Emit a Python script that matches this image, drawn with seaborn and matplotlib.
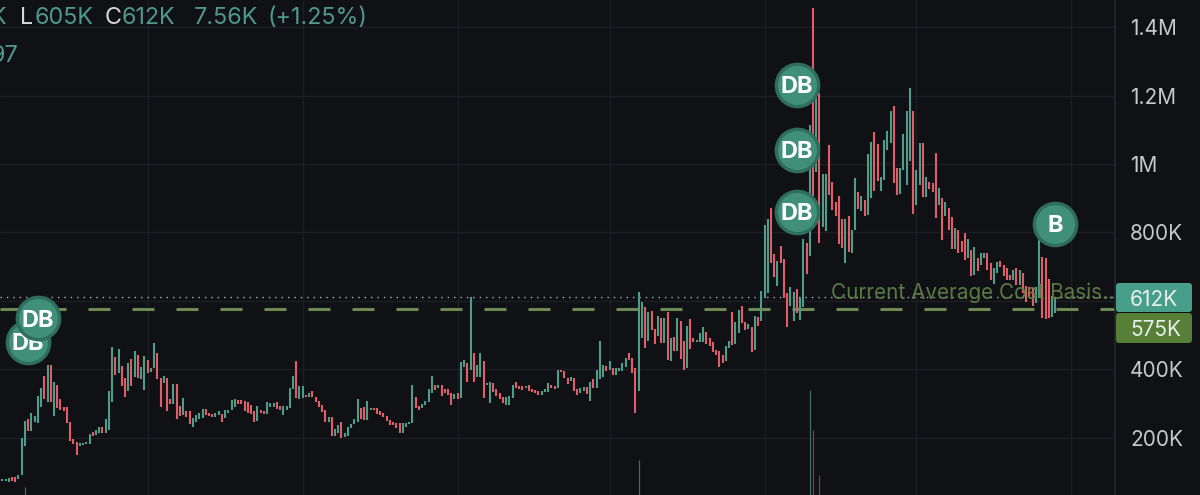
import matplotlib
matplotlib.use('Agg')
import matplotlib.pyplot as plt
import pandas as pd
import seaborn as sns
from matplotlib.patches import FancyBboxPatch
from matplotlib.transforms import IdentityTransform

# candles (thousands)
highs = [
    80, 80, 84, 87, 85, 90, 199, 249, 254, 274,
    264, 323, 345, 381, 413, 413, 364, 353, 313, 291,
    291, 246, 197, 187, 184, 186, 188, 210, 216, 223,
    232, 232, 255, 337, 466, 437, 460, 410, 376, 418,
    429, 455, 442, 408, 439, 427, 403, 476, 447, 374,
    381, 374, 313, 356, 357, 293, 316, 277, 277, 257,
    267, 272, 283, 283, 272, 270, 272, 277, 269, 282,
    282, 311, 313, 311, 311, 309, 306, 296, 277, 293,
    282, 279, 306, 303, 303, 306, 293, 293, 293, 345,
    381, 425, 350, 352, 325, 330, 337, 320, 309, 296,
    282, 260, 262, 226, 238, 247, 213, 233, 241, 254,
    313, 286, 291, 308, 286, 288, 286, 277, 272, 265,
    252, 247, 243, 243,
    243, 243, 247, 354, 319, 293, 299, 309, 343, 381,
    354, 354, 354, 343, 342, 330, 327, 330, 421, 427,
    418, 612, 447, 413, 447, 423, 361, 362, 359, 342,
    330, 318, 320, 322, 354, 362, 350, 350, 352, 354,
    342, 340, 337, 337, 342, 359, 354, 352, 398, 398,
    395, 374, 377, 374, 342, 345, 348, 348, 363, 371,
    398, 484, 413, 410, 423, 405, 403, 405, 420, 432,
    447, 432, 405, 625, 598, 583, 569, 571, 517, 556,
    551, 549, 569, 491, 496, 549, 542, 484, 527, 547,
    491, 486, 505, 523, 508, 493, 479, 457, 454, 442,
    468, 483, 567, 537, 573,
    584, 538, 533, 525, 557, 554, 630, 822, 839, 871,
    737, 717, 759, 722, 623, 642, 625, 634, 608, 780,
    769, 1114, 1455, 1192, 1207, 971, 971, 1054, 946, 890,
    905, 839, 839, 848, 808, 958, 917, 907, 895, 1029,
    1063, 1092, 1059, 963, 1070, 1097, 1155, 1170, 988, 988,
    1088, 1156, 1223, 1156, 983, 1061, 1061, 961, 947, 944,
    1033, 929, 900, 890, 871, 844, 812, 808, 774, 798,
    780, 749, 757, 725,
    739, 741, 739, 710, 695, 715, 717, 705, 697, 676,
    690, 695, 690, 681, 644, 642, 637, 642, 778, 729,
    725, 663, 613, 608,
]
lows = [
    75, 74, 71, 74, 71, 79, 90, 176, 221, 221,
    245, 242, 291, 313, 306, 306, 265, 286, 282, 277,
    243, 191, 182, 149, 176, 179, 183, 183, 204, 209,
    215, 213, 213, 223, 306, 384, 389, 352, 318, 337,
    352, 379, 376, 373, 340, 389, 391, 403, 372, 291,
    359, 277, 299, 299, 254, 265, 267, 262, 240, 231,
    247, 254, 258, 267, 265, 262, 262, 267, 246, 258,
    272, 280, 291, 299, 299, 277, 274, 270, 245, 250,
    272, 270, 269, 291, 291, 283, 280, 267, 282, 286,
    342, 316, 313, 316, 319, 319, 319, 305, 291, 275,
    245, 245, 204, 204, 213, 199, 201, 204, 228, 241,
    247, 254, 252, 252, 280, 282, 269, 267, 260, 249,
    238, 238, 228, 215,
    215, 233, 241, 243, 286, 282, 286, 296, 306, 330,
    340, 345, 322, 330, 325, 296, 313, 313, 316, 406,
    364, 398, 364, 377, 379, 316, 354, 303, 335, 322,
    313, 301, 296, 296, 316, 345, 342, 340, 345, 338,
    335, 332, 325, 325, 334, 335, 345, 344, 345, 392,
    374, 357, 367, 337, 325, 330, 338, 327, 308, 345,
    345, 371, 379, 396, 398, 384, 384, 396, 396, 408,
    427, 389, 272, 337, 491, 462, 483, 515, 474, 498,
    476, 478, 427, 425, 455, 455, 429, 398, 403, 460,
    479, 481, 481, 481, 473, 468, 452, 442, 406, 418,
    425, 463, 471, 473, 505,
    535, 516, 517, 452, 457, 527, 540, 608, 623, 710,
    669, 644, 712, 608, 525, 584, 540, 564, 543, 582,
    679, 730, 905, 978, 769, 817, 803, 910, 866, 848,
    767, 754, 710, 744, 739, 808, 868, 864, 847, 851,
    900, 922, 949, 920, 954, 1041, 1061, 944, 910, 912,
    983, 939, 1009, 854, 881, 939, 903, 903, 926, 917,
    842, 879, 777, 847, 808, 751, 751, 739, 742, 720,
    725, 673, 676, 688,
    705, 725, 690, 661, 649, 681, 698, 673, 661, 661,
    661, 647, 647, 622, 598, 613, 585, 593, 608, 549,
    546, 549, 554, 566,
]
directions = (
    'GGGRRGGGRG' 'GGGRGRGRRR' 'RRRRGGGGRG' 'GRGGGRGRRG' 'RGRGGRGGRR' 'GRRGRRGRRG'
    'GGGRRRGGRG' 'GGGRRRRRRG' 'RRGGGRRGGG' 'GRGGRGRRRR' 'RGRGGRGGGG' 'GRRGGRRRRR' 'RRRR'
    'GGGGRRGGGG' 'RGRRRRGRGG' 'RGRGGRGGRR' 'RRGGGRRRGR' 'RRRGGGRRGR' 'RRGRRGGRGR'
    'GGGRGRGGGG' 'RRRGGRGRRG' 'RGRGRGRRGR' 'RGGGRRRRRR' 'GGRGG'
    'RRGRGRGGGR' 'RGRRRGGRGG' 'RGRGRGGRRR' 'RRGRGGRGRG' 'GRRGGGGRRG' 'GGGRGGRGRR'
    'RGRGRRGRRR' 'GRGR'
    'GGRRGGRRRRGRGRRRRGGRRRGG'
)

# volume spikes along the bottom
volume_index = [7, 197, 250, 251, 253]
volume_values = [8, 35, 105, 65, 20]
volume_dir = ['G', 'G', 'G', 'R', 'R']

# trade markers
marker_labels = ['DB', 'DB', 'DB', 'DB', 'DB', 'B']
marker_index = [8, 11, 246, 246, 246, 326]
marker_values = [480, 550, 1231, 1041, 860, 825]

price_ticks = [200, 400, 600, 800, 1000, 1200, 1400]
price_labels = ['200K', '400K', '', '800K', '1M', '1.2M', '1.4M']
time_ticks = [45, 93, 141, 188, 236, 283, 331]

last_price = 612
cost_basis = 575

BG = '#0f1115'
GRID = '#1c1e23'
UP = '#4f9c88'
DOWN = '#e05d6a'
OLIVE = '#6c8a50'
FONT = 'Inter'

sns.set_theme(style='darkgrid', rc={
    'axes.facecolor': BG,
    'figure.facecolor': BG,
    'axes.edgecolor': GRID,
    'grid.color': GRID,
    'grid.linewidth': 1.0,
    'lines.solid_capstyle': 'butt',
})
plt.rcParams['font.family'] = [FONT, 'DejaVu Sans']

fig = plt.figure(figsize=(12, 4.95), dpi=100)
ax = fig.add_axes([0, 0, 1115 / 1200, 1])

rows = []
for i, (h, l, d) in enumerate(zip(highs, lows, directions)):
    rows.append({'t': i, 'price': l, 'direction': d})
    rows.append({'t': i, 'price': h, 'direction': d})
candles = pd.DataFrame(rows)

ax.axhline(cost_basis, color=OLIVE, lw=2.2, dashes=(7.2, 7.2), zorder=1)
ax.axhline(last_price, color='#a9b8b3', lw=1.0, dashes=(1, 3.6), zorder=1)

sns.lineplot(data=candles, x='t', y='price', hue='direction', units='t', estimator=None,
             palette={'G': UP, 'R': DOWN}, linewidth=1.5, legend=False, ax=ax, zorder=3)

ax.set_xlim(-0.71, 344.5)
ax.set_ylim(33, 1479)
ax.set_xticks(time_ticks)
ax.set_xticklabels([])
ax.set_yticks(price_ticks)
ax.set_yticklabels(price_labels)
ax.set_xlabel('')
ax.set_ylabel('')
for side in ['top', 'left', 'bottom']:
    ax.spines[side].set_visible(False)
ax.spines['right'].set_visible(True)
ax.spines['right'].set_color('#24262b')

# volume has its own scale
vol_ax = ax.twinx()
vol = pd.DataFrame({
    't': volume_index + volume_index,
    'volume': [0] * len(volume_values) + volume_values,
    'direction': volume_dir + volume_dir,
})
sns.lineplot(data=vol, x='t', y='volume', hue='direction', units='t', estimator=None,
             palette={'G': '#3f6f64', 'R': '#7d3f48'}, linewidth=0.9, legend=False, ax=vol_ax)
vol_ax.set_ylim(0, 495)
vol_ax.axis('off')

# twinx moves the ticks back to the left
ax.yaxis.tick_right()
ax.tick_params(axis='y', length=0, pad=10.8, labelsize=15, labelcolor='#c6c8cb')
ax.tick_params(axis='x', length=0)

ax.text(344.2, 595, 'Current Average Cost Basis..', color='#5f7f45', fontsize=14.9,
        ha='right', va='bottom', zorder=4, alpha=0.95)

# badges on top of everything
for n, (lab, t, v) in enumerate(zip(marker_labels, marker_index, marker_values)):
    z = 10 + n * 2
    sns.scatterplot(x=[t], y=[v], s=930, color='#408f79', edgecolor='#2f6d5c', linewidth=2.4,
                    legend=False, ax=ax, zorder=z, clip_on=False)
    ax.text(t, v, lab, color='white', fontsize=17, fontweight='bold', ha='center',
            va='center_baseline', zorder=z + 1)
ax.set_xlabel('')
ax.set_ylabel('')
ax.set_zorder(2)
vol_ax.set_zorder(3)

# price tags on the axis
tags = [('612K', '#479f8a', 283, 29), ('575K', '#567f38', 313, 30)]
for text, color, top, height in tags:
    fig.add_artist(FancyBboxPatch((1116, 495 - top - height), 76, height,
                                  boxstyle='round,pad=0,rounding_size=3', fc=color, ec='none',
                                  transform=IdentityTransform()))
    fig.text(1130 / 1200, 1 - (top + height / 2) / 495, text, color='#e8f0ee', fontsize=15,
             ha='left', va='center_baseline')

# OHLC header, clipped by the left edge
header = [('K', -9, '#4f9a87'), ('L', 20, '#d8d8d8'), ('605K', 35, '#4f9a87'), ('C', 105, '#d8d8d8'),
          ('612K', 122, '#4f9a87'), ('7.56K', 194, '#4f9a87'), ('(+1.25%)', 268, '#4f9a87')]
for text, x, color in header:
    fig.text(x / 1200, 1 - 24 / 495, text, color=color, fontsize=16.8, ha='left', va='baseline')
fig.text(-9 / 1200, 1 - 62 / 495, '97', color='#4f9a87', fontsize=16.8, ha='left', va='baseline')

fig.savefig('out.png', dpi=100, facecolor=BG)
